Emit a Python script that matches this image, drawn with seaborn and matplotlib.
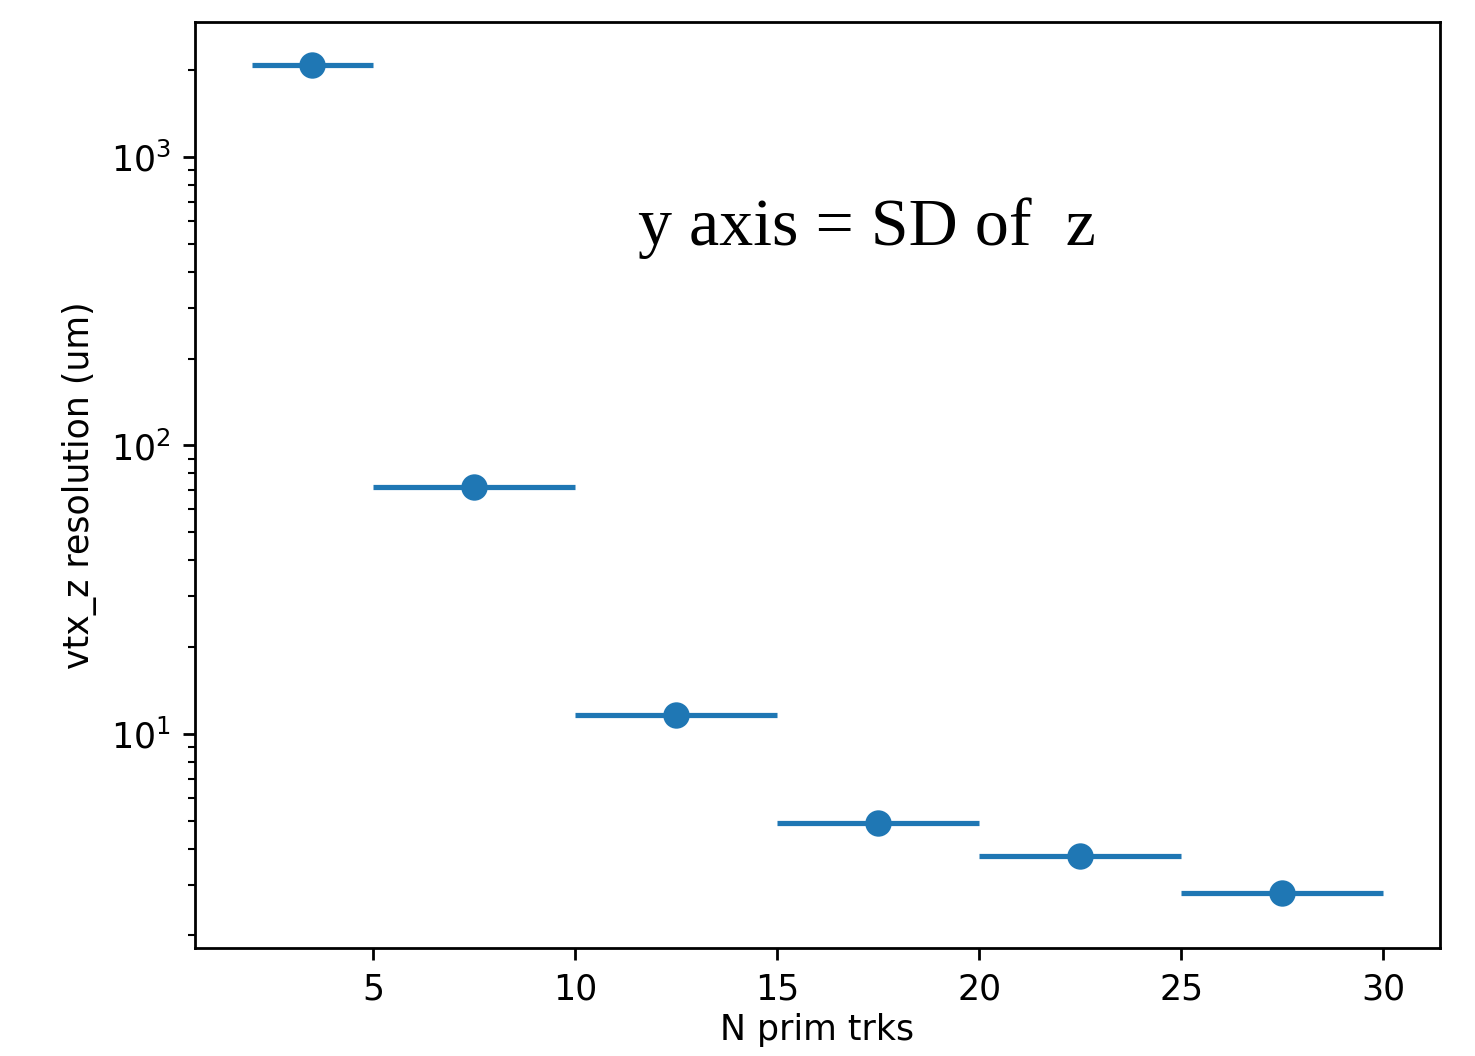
import numpy as np
import matplotlib
matplotlib.use("Agg")
import matplotlib.pyplot as plt
import seaborn as sns

# bins of primary track multiplicity
n_trk_center = [3.5, 7.5, 12.5, 17.5, 22.5, 27.5]
n_trk_halfwidth = [1.5, 2.5, 2.5, 2.5, 2.5, 2.5]
vtx_z_res = [2085, 72, 11.6, 4.92, 3.78, 2.81]

sns.set_style("ticks", {"axes.edgecolor": "black", "xtick.color": "black", "ytick.color": "black",
                        "text.color": "black", "axes.labelcolor": "black"})
plt.rcParams['font.family'] = ['DejaVu Sans']

fig = plt.figure(figsize=(5.9, 4.224), dpi=250)
ax = fig.add_axes([0.1322, 0.1023, 0.8441, 0.8769])

color = sns.color_palette("tab10")[0]
ax.errorbar(n_trk_center, vtx_z_res, xerr=n_trk_halfwidth, fmt='o', color=color,
            markersize=6.6, elinewidth=1.5)
ax.set_yscale('log')
ax.set_ylim(1.81, 2940)
ax.set_xlabel('N prim trks', labelpad=2)
ax.set_ylabel('vtx_z resolution (um)')
ax.tick_params(which='both', direction='out')

fig.text(638 / 1475, 1 - 245 / 1056, 'y axis = SD of  z', family=['Liberation Serif'],
         fontsize=19.6, va='baseline', ha='left')

fig.savefig('out.png', dpi=250)
